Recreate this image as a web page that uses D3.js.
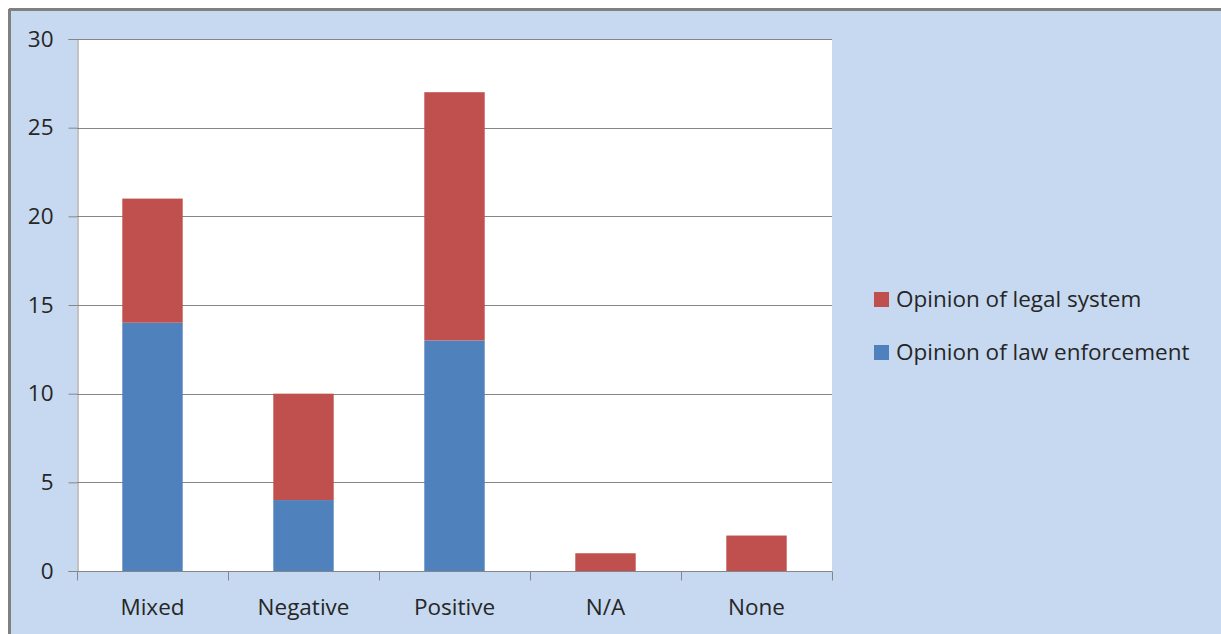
<!DOCTYPE html>
<html><head><meta charset="utf-8">
<script src="https://cdn.jsdelivr.net/npm/d3@7"></script>
<style>
html,body{margin:0;padding:0;background:#fff;}
svg{display:block;}
text{font-family:"Open Sans",Lato,sans-serif;fill:#262626;}
</style></head>
<body>
<script>
const categories = ["Mixed", "Negative", "Positive", "N/A", "None"];
const lawEnforcement = [14, 4, 13, 0, 0];
const legalSystem = [7, 6, 14, 1, 2];
const seriesNames = ["Opinion of law enforcement", "Opinion of legal system"];
const yTicks = [0, 5, 10, 15, 20, 25, 30];

const W = 1221, H = 634;
const FONT = "'Open Sans',Lato,sans-serif";
const FS = "22.5px";
const colors = {"Opinion of law enforcement": "#4f81bd", "Opinion of legal system": "#c0504d"};

const svg = d3.select("body").append("svg").attr("width", W).attr("height", H);

svg.append("rect").attr("x", 0).attr("y", 0).attr("width", W).attr("height", H).attr("fill", "#fff");
svg.append("rect").attr("x", 9).attr("y", 9).attr("width", W - 9).attr("height", H - 9).attr("fill", "#c6d9f0");
svg.append("line").attr("x1", 9).attr("x2", W).attr("y1", 9.5).attr("y2", 9.5).attr("stroke", "#808080").attr("stroke-width", 3);
svg.append("line").attr("x1", 9.5).attr("x2", 9.5).attr("y1", 9).attr("y2", H).attr("stroke", "#808080").attr("stroke-width", 3);

const plot = {left: 77, right: 832, top: 39, bottom: 571};
svg.append("rect").attr("x", plot.left).attr("y", plot.top)
  .attr("width", plot.right - plot.left).attr("height", plot.bottom - plot.top).attr("fill", "#fff");

const x = d3.scaleBand().domain(categories).range([plot.left, plot.right]).paddingInner(0.6).paddingOuter(0.3);
const xOuter = d3.scaleBand().domain(categories).range([plot.left, plot.right]);
const y = d3.scaleLinear().domain([0, 30]).range([plot.bottom, plot.top]);

svg.append("g").selectAll("line").data(yTicks.filter(d => d > 0)).join("line")
  .attr("x1", plot.left).attr("x2", plot.right)
  .attr("y1", d => Math.round(y(d)) + 0.5).attr("y2", d => Math.round(y(d)) + 0.5)
  .attr("stroke", "#868686").attr("stroke-width", 1);

const rows = categories.map((c, i) => ({cat: c, "Opinion of law enforcement": lawEnforcement[i], "Opinion of legal system": legalSystem[i]}));
const stack = d3.stack().keys(seriesNames)(rows);

svg.append("g").selectAll("g").data(stack).join("g")
  .attr("fill", d => colors[d.key])
  .selectAll("rect").data(d => d).join("rect")
  .attr("x", d => x(d.data.cat))
  .attr("width", x.bandwidth())
  .attr("y", d => y(d[1]))
  .attr("height", d => y(d[0]) - y(d[1]));

const yAxis = d3.axisLeft(y).tickValues(yTicks).tickSize(9).tickPadding(15);
const gy = svg.append("g").attr("transform", `translate(${plot.left + 0.5},0)`).call(yAxis);
gy.select(".domain").attr("stroke", "#868686");
gy.selectAll(".tick line").attr("stroke", "#868686");
gy.selectAll(".tick text").style("font-size", FS).style("font-family", FONT).attr("fill", "#262626");

const gx = svg.append("g").attr("transform", `translate(0,${plot.bottom + 0.5})`);
gx.append("line").attr("x1", plot.left).attr("x2", plot.right).attr("stroke", "#868686");
const bounds = [plot.left].concat(categories.map(c => xOuter(c) + xOuter.bandwidth()));
gx.selectAll("line.tk").data(bounds).join("line").attr("class", "tk")
  .attr("x1", d => Math.round(d) + 0.5).attr("x2", d => Math.round(d) + 0.5)
  .attr("y1", 0).attr("y2", 9).attr("stroke", "#868686");
gx.selectAll("text").data(categories).join("text")
  .attr("x", d => xOuter(d) + xOuter.bandwidth() / 2)
  .attr("y", 43).attr("text-anchor", "middle").style("font-size", FS).text(d => d);

const legendItems = ["Opinion of legal system", "Opinion of law enforcement"];
const lg = svg.append("g").selectAll("g").data(legendItems).join("g")
  .attr("transform", (d, i) => `translate(874,${292 + i * 53})`);
lg.append("rect").attr("width", 15).attr("height", 15).attr("fill", d => colors[d]);
lg.append("text").attr("x", 22).attr("y", 7.5).attr("dy", "0.35em").style("font-size", FS).text(d => d);
</script>
</body></html>
